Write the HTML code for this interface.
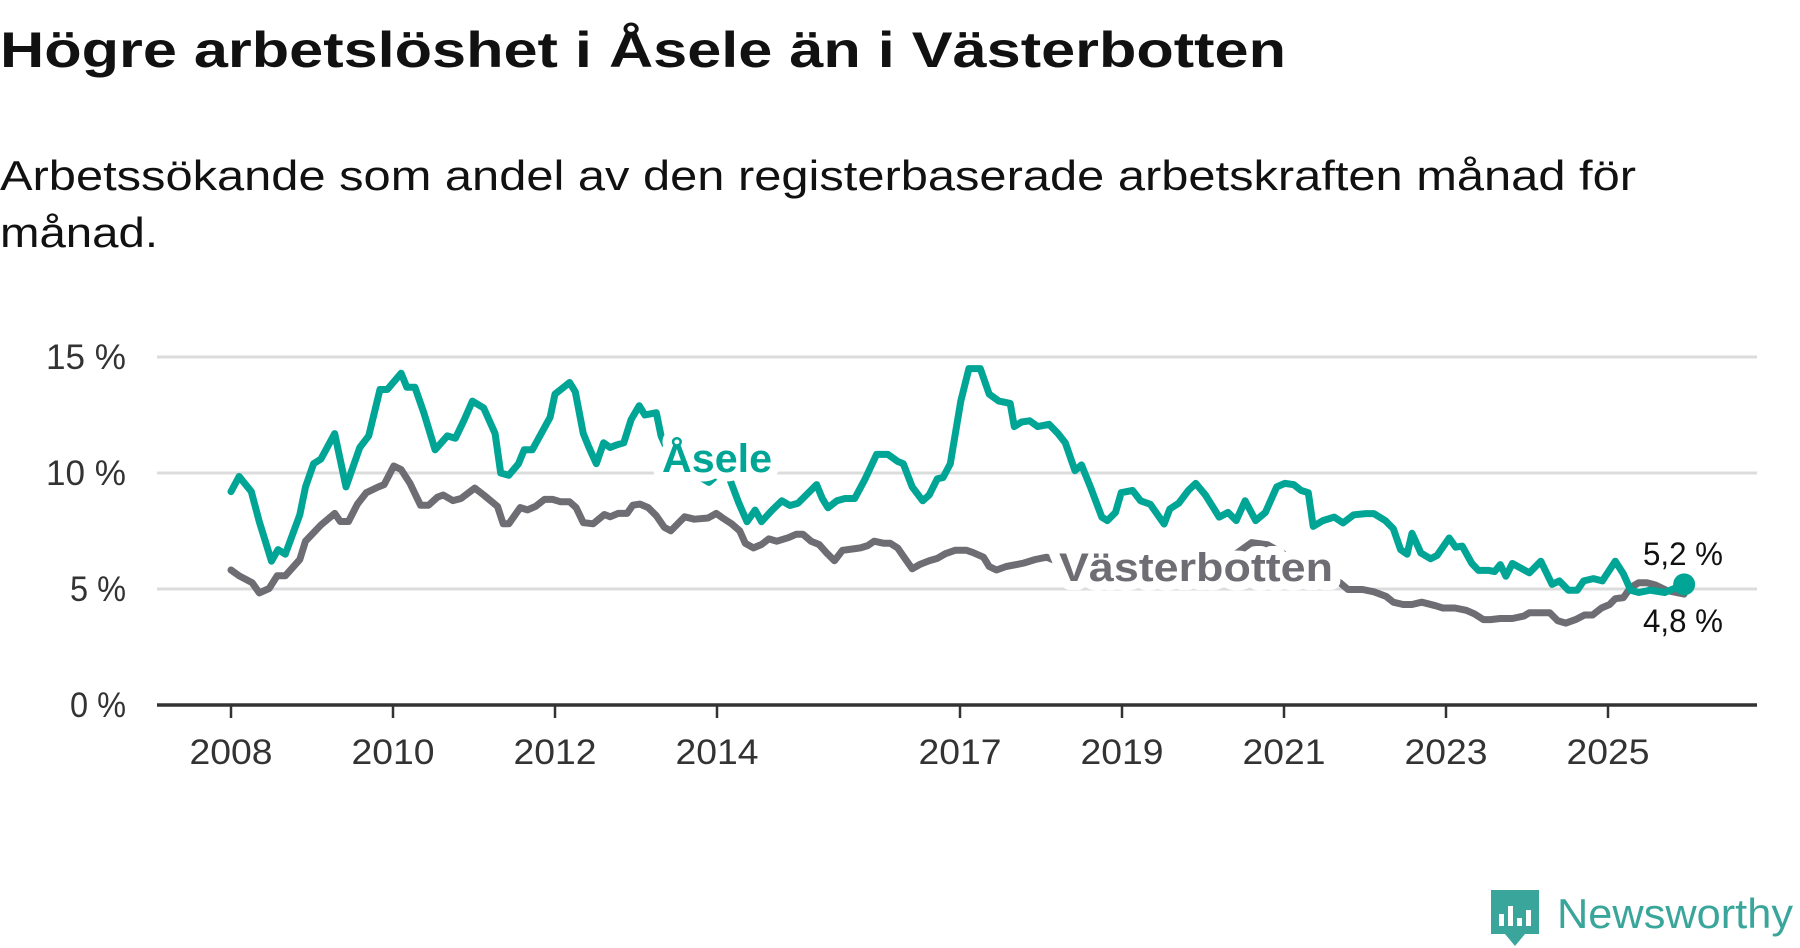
<!DOCTYPE html>
<html><head><meta charset="utf-8"><style>
html,body{margin:0;padding:0;background:#fff;}
svg{display:block;font-family:"Liberation Sans",sans-serif;}
</style></head><body>
<svg id="chart" width="1800" height="948" viewBox="0 0 1800 948" xmlns="http://www.w3.org/2000/svg">
<text x="0" y="67" font-size="50" font-weight="bold" fill="#111" textLength="1286" lengthAdjust="spacingAndGlyphs">Högre arbetslöshet i Åsele än i Västerbotten</text>
<text x="0" y="190" font-size="42" fill="#111" textLength="1636" lengthAdjust="spacingAndGlyphs">Arbetssökande som andel av den registerbaserade arbetskraften månad för</text>
<text x="0" y="247" font-size="42" fill="#111" textLength="158" lengthAdjust="spacingAndGlyphs">månad.</text>
<g id="grid"></g><g id="axes"></g><g id="series"></g><g id="labels"></g>
<g>
<path d="M1491 890 h48 v44 h-14 l-10 12 l-10 -12 h-14 z" fill="#3aa69b"/>
<rect x="1499" y="914" width="5" height="12" fill="#fff"/><rect x="1508" y="906" width="5" height="20" fill="#fff"/><rect x="1517" y="918" width="5" height="8" fill="#fff"/><rect x="1526" y="910" width="5" height="16" fill="#fff"/>
<text x="1557" y="928" font-size="42" fill="#3aa69b" textLength="236" lengthAdjust="spacingAndGlyphs">Newsworthy</text>
</g>
</svg>
<script>
const yTicks=[0,5,10,15];
const yTickLabels=["0 %","5 %","10 %","15 %"];
const xTicks=[2008,2010,2012,2014,2017,2019,2021,2023,2025];
const aseleT=[0,.1,.25,.35,.5,.58,.67,.85,.92,1.02,1.11,1.28,1.42,1.59,1.7,1.84,1.93,2.1,2.17,2.27,2.38,2.52,2.67,2.77,2.88,2.98,3.12,3.26,3.33,3.43,3.55,3.62,3.72,3.83,3.94,4.0,4.18,4.25,4.35,4.42,4.51,4.6,4.68,4.75,4.85,4.94,5.04,5.11,5.25,5.31,5.45,5.6,5.8,5.9,6.0,6.15,6.27,6.37,6.47,6.55,6.68,6.8,6.9,7.0,7.23,7.3,7.37,7.48,7.58,7.7,7.83,7.97,8.11,8.23,8.3,8.41,8.54,8.62,8.72,8.79,8.88,9.01,9.11,9.25,9.36,9.48,9.62,9.67,9.76,9.86,9.96,10.1,10.21,10.3,10.42,10.5,10.61,10.75,10.82,10.92,10.99,11.13,11.23,11.35,11.52,11.59,11.7,11.82,11.91,12.03,12.2,12.31,12.41,12.52,12.65,12.77,12.91,13.01,13.12,13.21,13.3,13.36,13.48,13.62,13.73,13.86,14.01,14.11,14.25,14.35,14.44,14.52,14.58,14.69,14.81,14.89,15.04,15.12,15.2,15.32,15.4,15.53,15.6,15.67,15.74,15.82,16.03,16.17,16.31,16.4,16.51,16.62,16.7,16.82,16.93,17.09,17.19,17.28,17.38,17.52,17.7,17.94];
const aseleV=[9.2,9.85,9.2,7.9,6.2,6.7,6.5,8.2,9.4,10.4,10.6,11.7,9.4,11.1,11.6,13.6,13.6,14.3,13.7,13.7,12.6,11.0,11.6,11.5,12.3,13.1,12.8,11.7,10.0,9.9,10.4,11.0,11.0,11.7,12.4,13.4,13.9,13.5,11.7,11.1,10.4,11.3,11.1,11.2,11.3,12.3,12.9,12.5,12.6,11.6,10.5,10.0,9.8,9.6,9.9,9.8,8.7,7.9,8.4,7.9,8.4,8.8,8.6,8.7,9.5,8.9,8.5,8.8,8.9,8.9,9.75,10.8,10.8,10.5,10.4,9.4,8.8,9.05,9.75,9.8,10.4,13.1,14.5,14.5,13.4,13.1,13.0,12.0,12.2,12.25,12.0,12.1,11.7,11.3,10.1,10.35,9.4,8.1,7.95,8.3,9.15,9.25,8.8,8.65,7.8,8.45,8.7,9.25,9.55,9.05,8.1,8.3,7.95,8.8,7.95,8.3,9.4,9.55,9.5,9.25,9.15,7.7,7.95,8.1,7.85,8.2,8.25,8.25,7.95,7.6,6.7,6.5,7.4,6.55,6.3,6.45,7.2,6.8,6.85,6.1,5.8,5.8,5.75,6.05,5.55,6.1,5.7,6.2,5.2,5.35,4.95,4.95,5.35,5.45,5.35,6.2,5.65,4.95,4.85,4.95,4.85,5.2];
const vastT=[0,.1,.26,.35,.47,.57,.67,.85,.92,1.11,1.28,1.35,1.45,1.56,1.67,1.82,1.89,2.01,2.1,2.21,2.34,2.44,2.55,2.62,2.74,2.84,3.01,3.12,3.29,3.36,3.43,3.57,3.66,3.76,3.87,3.97,4.07,4.18,4.26,4.35,4.47,4.61,4.68,4.78,4.89,4.96,5.05,5.15,5.25,5.35,5.43,5.6,5.72,5.89,5.99,6.07,6.18,6.28,6.35,6.45,6.55,6.64,6.74,6.88,6.98,7.06,7.16,7.26,7.35,7.45,7.55,7.66,7.77,7.86,7.94,8.06,8.14,8.23,8.31,8.41,8.51,8.62,8.72,8.82,8.94,9.08,9.16,9.29,9.36,9.45,9.57,9.72,9.79,9.93,10.07,10.18,10.3,10.6,11.0,11.4,11.8,12.2,12.4,12.6,12.8,13.0,13.3,13.69,13.79,13.97,14.11,14.26,14.35,14.47,14.58,14.7,14.87,14.96,15.11,15.25,15.35,15.46,15.55,15.67,15.82,15.96,16.03,16.17,16.28,16.38,16.48,16.6,16.71,16.81,16.92,17.02,17.09,17.19,17.28,17.38,17.48,17.59,17.73,17.94];
const vastV=[5.82,5.57,5.27,4.83,5.02,5.57,5.57,6.27,7.06,7.76,8.26,7.91,7.91,8.66,9.15,9.4,9.5,10.3,10.15,9.55,8.61,8.61,8.96,9.05,8.81,8.9,9.35,9.05,8.56,7.81,7.81,8.51,8.41,8.56,8.86,8.86,8.76,8.76,8.51,7.86,7.81,8.21,8.11,8.26,8.26,8.61,8.66,8.51,8.16,7.66,7.51,8.11,8.01,8.06,8.26,8.06,7.81,7.51,6.97,6.77,6.92,7.16,7.06,7.21,7.36,7.36,7.06,6.92,6.57,6.22,6.67,6.72,6.77,6.87,7.06,6.97,6.97,6.77,6.37,5.87,6.07,6.22,6.32,6.52,6.67,6.67,6.57,6.37,5.97,5.82,5.97,6.07,6.12,6.27,6.37,6.22,6.1,5.8,5.4,5.3,5.5,5.7,6.5,7.0,6.9,6.5,5.9,5.27,4.98,4.98,4.88,4.68,4.43,4.33,4.33,4.43,4.28,4.18,4.18,4.08,3.93,3.68,3.68,3.73,3.73,3.83,3.98,3.98,3.98,3.63,3.53,3.68,3.88,3.88,4.18,4.33,4.58,4.63,5.07,5.27,5.27,5.17,4.93,4.78];
const aseleLast="5,2 %", vastLast="4,8 %";
const NS="http://www.w3.org/2000/svg";
const X0=157,X1=1757;
function xs(year){return 231+(year-2008)*81;}
function ys(v){return 705-v*23.2;}
function mk(tag,attrs,parent){const e=document.createElementNS(NS,tag);for(const k in attrs)e.setAttribute(k,attrs[k]);parent.appendChild(e);return e;}
const grid=document.getElementById('grid'),axes=document.getElementById('axes'),series=document.getElementById('series'),labels=document.getElementById('labels');
yTicks.forEach((t,i)=>{
  if(t>0){const g=mk('line',{x1:X0,x2:X1,y1:ys(t),y2:ys(t),stroke:'#dcdcdc','stroke-width':3},grid);
  
  }
  const tw=yTickLabels[i].length>3?80:56;
  const tx=mk('text',{x:126,y:ys(t)+12,'text-anchor':'end','font-size':35,fill:'#333',textLength:tw,lengthAdjust:'spacingAndGlyphs'},axes);
  tx.textContent=yTickLabels[i];
  
  
});
const ax=mk('line',{x1:X0,x2:X1,y1:ys(0),y2:ys(0),stroke:'#333','stroke-width':3.5},axes);


xTicks.forEach(y=>{
  const tk=mk('line',{x1:xs(y),x2:xs(y),y1:ys(0),y2:ys(0)+13,stroke:'#333','stroke-width':2.5},axes);
  
  
  const tx=mk('text',{x:xs(y),y:764,'text-anchor':'middle','font-size':35,fill:'#333',textLength:83,lengthAdjust:'spacingAndGlyphs'},axes);
  tx.textContent=y;
  
  
});
function pts(T,V){return T.map((t,i)=>xs(2008+t).toFixed(1)+','+ys(V[i]).toFixed(1)).join(' ');}
const gl=mk('polyline',{points:pts(vastT,vastV),fill:'none',stroke:'#6e6d73','stroke-width':7,'stroke-linejoin':'round','stroke-linecap':'round'},series);


const tl=mk('polyline',{points:pts(aseleT,aseleV),fill:'none',stroke:'#00a596','stroke-width':7,'stroke-linejoin':'round','stroke-linecap':'round'},series);


const lt=aseleT.length-1;
const dot=mk('circle',{cx:xs(2008+aseleT[lt]),cy:ys(aseleV[lt]),r:11,fill:'#00a596'},series);


function lab(txt,x,y,size,col,bold,anchor,name,w,halo){
  const a={x:x,y:y,'font-size':size,fill:col,'font-weight':bold?'bold':'normal','text-anchor':anchor,stroke:'#fff','stroke-width':halo,'paint-order':'stroke','stroke-linejoin':'round'};
  if(w){a.textLength=w;a.lengthAdjust='spacingAndGlyphs';}
  const t=mk('text',a,labels);
  t.textContent=txt;
  
  
  return t;}
lab('Åsele',662,472,40,'#00a596',true,'start','asele-series-label',110,18);
lab('Västerbotten',1059,581,40,'#6e6d73',true,'start','vasterbotten-series-label',274,18);
lab(aseleLast,1683,565,32,'#111',false,'middle','asele-end-value',80,8);
lab(vastLast,1683,632,32,'#111',false,'middle','vasterbotten-end-value',80,8);
</script>
</body></html>
